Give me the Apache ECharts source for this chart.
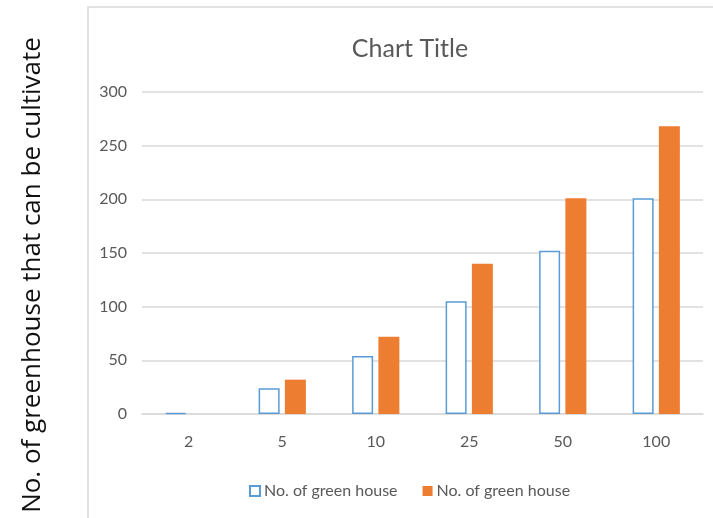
<!DOCTYPE html>
<html>
<head>
<meta charset="utf-8">
<script src="https://cdn.jsdelivr.net/npm/echarts@6/dist/echarts.min.js"></script>
<style>html,body{margin:0;padding:0;background:#fff}#c{width:713px;height:518px}</style>
</head>
<body>
<div id="c"></div>
<script>
var categories = ['2', '5', '10', '25', '50', '100'];
var seriesNames = ['No. of green house', 'No. of green house '];
var blueValues = [1, 24, 54, 105, 152, 201];
var orangeValues = [0, 32, 72, 140, 201, 268];
var yTicks = [0, 50, 100, 150, 200, 250, 300];
var titleText = 'Chart Title';
var yAxisTitle = 'No. of greenhouse that can be cultivate';

var chart = echarts.init(document.getElementById('c'), null, {renderer: 'canvas'});
var grey = '#595959';
var font = 'Lato, "Open Sans", sans-serif';
chart.setOption({
  animation: false,
  backgroundColor: '#fff',
  title: {
    text: titleText, left: 405, top: 31, textAlign: 'center',
    textStyle: {color: grey, fontFamily: font, fontSize: 25, fontWeight: 'normal'}
  },
  graphic: [
    {type: 'rect', shape: {x: 88, y: 7, width: 700, height: 600}, style: {fill: 'none', stroke: '#d9d9d9', lineWidth: 1.5}, silent: true},
    {type: 'text', x: 33, y: 275, rotation: Math.PI / 2,
     style: {text: yAxisTitle, fill: '#111', font: '26px "Open Sans", sans-serif', textAlign: 'center', textVerticalAlign: 'middle'}}
  ],
  legend: {
    left: 244, top: 478, itemWidth: 10, itemHeight: 10, itemGap: 25, icon: 'rect',
    data: seriesNames,
    formatter: function (n) { return n.trim(); },
    textStyle: {color: grey, fontFamily: font, fontSize: 16, padding: [0, 0, 0, -1]}
  },
  grid: {left: 142, right: 10, top: 92, bottom: 104, containLabel: false},
  xAxis: {
    type: 'category', data: categories,
    axisLine: {lineStyle: {color: '#d9d9d9', width: 1.5}},
    axisTick: {show: false},
    axisLabel: {color: grey, fontFamily: font, fontSize: 16, margin: 20}
  },
  yAxis: {
    type: 'value', min: yTicks[0], max: yTicks[yTicks.length - 1], interval: 50,
    axisLine: {show: false}, axisTick: {show: false},
    splitLine: {lineStyle: {color: '#d9d9d9', width: 1.5}},
    axisLabel: {color: grey, fontFamily: font, fontSize: 16, margin: 15}
  },
  series: [
    {name: seriesNames[0], type: 'bar', data: blueValues, barWidth: 21, barGap: '25%',
     itemStyle: {color: '#ffffff', borderColor: '#5B9BD5', borderWidth: 1.5}},
    {name: seriesNames[1], type: 'bar', data: orangeValues, barWidth: 21,
     itemStyle: {color: '#ED7D31'}}
  ]
});
</script>
</body>
</html>
